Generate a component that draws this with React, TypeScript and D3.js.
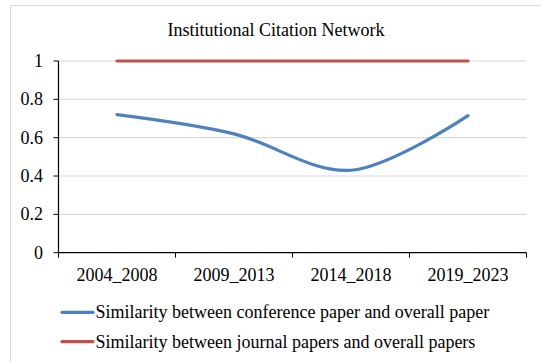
import React from "react";
import * as d3 from "d3";

const categories = ["2004_2008", "2009_2013", "2014_2018", "2019_2023"];
const conferenceSimilarity = [0.72, 0.62, 0.43, 0.715];
const journalSimilarity = [1, 1, 1, 1];
const yTicks = [0, 0.2, 0.4, 0.6, 0.8, 1];
const yTickLabels = ["0", "0.2", "0.4", "0.6", "0.8", "1"];
const seriesNames = [
  "Similarity between conference paper and overall paper",
  "Similarity between journal papers and overall papers",
];
const seriesColors = ["#4F81BD", "#C0504D"];

const W = 541;
const H = 362;
const FONT = "'Liberation Serif', 'Times New Roman', serif";

export default function App() {
  const left = 58.5;
  const right = 526.5;
  const top = 61;
  const bottom = 252.7;

  const x = d3.scaleBand<string>().domain(categories).range([left, right]);
  const y = d3.scaleLinear().domain([0, 1]).range([bottom, top]);

  const line = d3
    .line<number>()
    .x((_, i) => (x(categories[i]) as number) + x.bandwidth() / 2)
    .y((d) => y(d))
    .curve(d3.curveCatmullRom.alpha(0));

  const series = [conferenceSimilarity, journalSimilarity];
  const boundaries = [...categories.map((c) => x(c) as number), right];

  return (
    <svg
      width={W}
      height={H}
      style={{ position: "absolute", left: 0, top: 0, background: "#fff" }}
      fontFamily={FONT}
    >
      <rect x={10.5} y={5.5} width={560} height={400} fill="#fff" stroke="#d9d9d9" strokeWidth={1} />
      <text x={276} y={36} textAnchor="middle" fontSize={18} fill="#000">
        Institutional Citation Network
      </text>

      {yTicks.map((t, i) => (
        <g key={i}>
          {t > 0 && (
            <line x1={left} x2={right} y1={y(t)} y2={y(t)} stroke="#d9d9d9" strokeWidth={1.2} />
          )}
          <line x1={left - 5} x2={left} y1={y(t)} y2={y(t)} stroke="#000" strokeWidth={1} />
          <text x={43} y={y(t) + 6} textAnchor="end" fontSize={18} fill="#000">
            {yTickLabels[i]}
          </text>
        </g>
      ))}

      <line x1={left} x2={left} y1={top} y2={bottom} stroke="#000" strokeWidth={1.2} />
      <line x1={left} x2={right} y1={bottom} y2={bottom} stroke="#000" strokeWidth={1.2} />
      {boundaries.map((b, i) => (
        <line key={i} x1={b} x2={b} y1={bottom} y2={bottom + 5} stroke="#000" strokeWidth={1} />
      ))}
      {categories.map((c) => (
        <text
          key={c}
          x={(x(c) as number) + x.bandwidth() / 2}
          y={281}
          textAnchor="middle"
          fontSize={18}
          fill="#000"
        >
          {c}
        </text>
      ))}

      {series.map((s, i) => (
        <path
          key={i}
          d={line(s) as string}
          fill="none"
          stroke={seriesColors[i]}
          strokeWidth={3.2}
          strokeLinecap="round"
        />
      ))}

      {seriesNames.map((name, i) => {
        const ly = 312.3 + i * 29.4;
        return (
          <g key={name}>
            <line x1={62} x2={93} y1={ly} y2={ly} stroke={seriesColors[i]} strokeWidth={3.2} strokeLinecap="round" />
            <text x={95.5} y={ly + 6} fontSize={18} fill="#000">
              {name}
            </text>
          </g>
        );
      })}
    </svg>
  );
}
